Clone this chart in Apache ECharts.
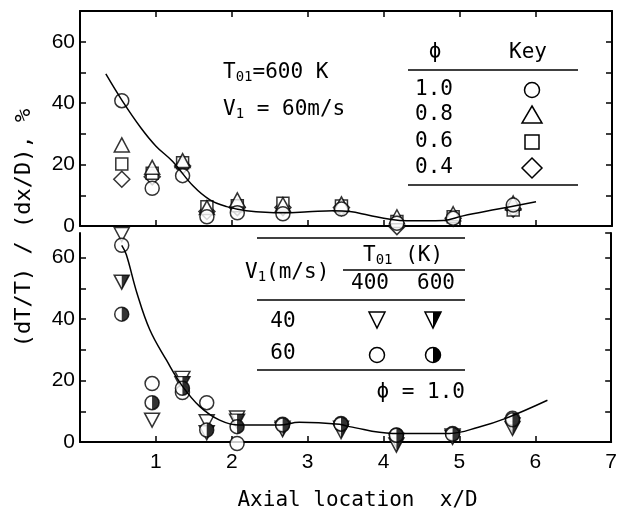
<!DOCTYPE html>
<html>
<head>
<meta charset="utf-8">
<script src="https://cdn.jsdelivr.net/npm/echarts@6.0.0/dist/echarts.min.js"></script>
<style>
  html, body { margin: 0; background: #fff; }
  #chart { width: 620px; height: 512px; }
</style>
</head>
<body>
<div id="chart"></div>
<script>
// axial stations x/D (same in both panels)
var stations = [0.55, 0.95, 1.35, 1.67, 2.07, 2.67, 3.44, 4.17, 4.91, 5.70];

// top panel: T01 = 600 K, V1 = 60 m/s, by equivalence ratio
var phi10 = [40.8, 12.3, 16.4, 3.0, 4.3, 4.0, 5.5, 0.9, 2.5, 6.8];
var phi08 = [26.4, 19.1, 21.3, 6.0, 8.5, 7.0, 7.2, 3.0, 4.0, 7.5];
var phi06 = [20.2, 17.2, 20.6, 6.3, 6.6, 7.4, 6.5, 1.5, 3.0, 5.2];
var phi04 = [15.2, 16.0, 19.5, 4.7, 6.0, 6.0, 6.0, -0.2, 2.5, 5.5];
// faired curve, top panel
var fitTopX = [0.34, 0.55, 0.8, 1.0, 1.22, 1.49, 1.71, 1.93, 2.19, 2.67, 3.0, 3.33, 3.55, 3.8, 4.08, 4.3, 4.78, 5.04, 5.5, 6.0];
var fitTopY = [49.5, 41, 32, 26, 21, 13, 8.5, 6.3, 5, 4.3, 4.6, 5, 4.7, 3.5, 2.2, 1.7, 1.8, 3.3, 5.5, 7.9];

// bottom panel: phi = 1.0, by V1 (m/s) and T01 (K)
var v40t400 = [67.5, 7.1, 20.7, 6.6, 7.8, 4.5, 4.5, 0.5, 2.0, 5.5];
var v40t600 = [52.0, null, 19.0, 3.0, 6.8, 4.0, 3.4, -1.0, 1.5, 4.4];
var v60t400 = [64.0, 19.0, 16.1, 12.8, -0.5, 5.8, 6.0, 2.3, 2.8, 7.7];
var v60t600 = [41.6, 12.8, 17.5, 3.9, 5.0, 5.5, 5.8, 2.2, 2.5, 7.2];
// faired curve, bottom panel
var fitBotX = [0.55, 0.61, 0.75, 0.92, 1.14, 1.34, 1.58, 1.84, 2.1, 2.63, 2.89, 3.42, 3.55, 4.12, 4.87, 5.25, 5.61, 6.16];
var fitBotY = [64, 61, 48.5, 36.5, 26.6, 18.5, 11.5, 7.1, 5.5, 5.5, 6.4, 5.8, 5, 2.8, 2.8, 4.8, 7.7, 13.6];

var xTicks = ['1', '2', '3', '4', '5', '6', '7'];
var yTicks = [0, 20, 40, 60];

function pairs(xs, ys) {
  var out = [];
  for (var i = 0; i < xs.length; i++) {
    if (ys[i] != null) out.push([xs[i], ys[i]]);
  }
  return out;
}

var MONO = '"DejaVu Sans Mono", monospace';
var SANS = '"Liberation Sans", Arial, sans-serif';
var halfCircle = 'path://M0,-10A10,10,0,0,1,0,10Z M-10,0L-10,0';
var halfDownTri = 'path://M0,-9L10,-9L0,9Z M-10,-9L-10,-9';

function xAx(grid, pos, labels) {
  return {
    type: 'value', gridIndex: grid, position: pos, min: 0, max: 7, interval: 1,
    axisLine: { onZero: false, lineStyle: { color: '#000', width: 2 } },
    axisTick: { inside: true, length: 6, lineStyle: { color: '#000', width: 1.5 } },
    axisLabel: {
      show: labels, color: '#000', fontFamily: SANS, fontSize: 21, margin: 10,
      formatter: function (v) { return v === 0 ? '' : xTicks[v - 1]; }
    },
    splitLine: { show: false }
  };
}
function yAx(grid, pos, max, labels) {
  return {
    type: 'value', gridIndex: grid, position: pos, min: 0, max: max, interval: 10,
    axisLine: { onZero: false, lineStyle: { color: '#000', width: 2 } },
    axisTick: { inside: true, length: 6, lineStyle: { color: '#000', width: 1.5 } },
    axisLabel: {
      show: labels, color: '#000', fontFamily: SANS, fontSize: 21, margin: 5,
      showMaxLabel: false,
      formatter: function (v) { return yTicks.indexOf(v) >= 0 ? String(v) : ''; }
    },
    splitLine: { show: false }
  };
}
function openPts(name, xi, yi, data, symbol, size, rot) {
  return {
    name: name, type: 'scatter', xAxisIndex: xi, yAxisIndex: yi, data: data,
    symbol: symbol, symbolSize: size, symbolRotate: rot || 0, clip: false,
    itemStyle: { color: '#fff', borderColor: '#000', borderWidth: 1.5 }
  };
}
function fillPts(name, xi, yi, data, symbol, size) {
  return {
    name: name, type: 'scatter', xAxisIndex: xi, yAxisIndex: yi, data: data,
    symbol: symbol, symbolSize: size, clip: false,
    itemStyle: { color: '#000', borderWidth: 0 }
  };
}
function curve(xi, yi, data) {
  return {
    type: 'line', xAxisIndex: xi, yAxisIndex: yi, data: data, smooth: 0.4,
    showSymbol: false, clip: false, lineStyle: { color: '#000', width: 1.5 }
  };
}

var txt = function (t, x, y, align, size) {
  return { type: 'text', x: x, y: y, style: {
    text: t, font: (size || 21) + 'px ' + MONO, fill: '#000',
    textAlign: align || 'left', textVerticalAlign: 'middle' } };
};
var sub = function (parts, x, y) {
  // parts: [[text, isSub], ...]
  var s = parts.map(function (p) { return '{' + (p[1] ? 's' : 'n') + '|' + p[0] + '}'; }).join('');
  return { type: 'text', x: x, y: y, style: {
    text: s, fill: '#000', textVerticalAlign: 'middle',
    rich: {
      n: { fontFamily: MONO, fontSize: 21, lineHeight: 24 },
      s: { fontFamily: MONO, fontSize: 14, lineHeight: 24, padding: [9, 0, 0, 0] }
    } } };
};
var hline = function (x1, x2, y) {
  return { type: 'line', shape: { x1: x1, y1: y, x2: x2, y2: y }, style: { stroke: '#000', lineWidth: 1.5 } };
};
var keyStyle = { fill: '#fff', stroke: '#000', lineWidth: 1.5 };

var chart = echarts.init(document.getElementById('chart'));
chart.setOption({
  animation: false,
  backgroundColor: '#fff',
  grid: [
    { left: 80, right: 8, top: 11, height: 215 },
    { left: 80, right: 8, top: 233, height: 209 }
  ],
  xAxis: [
    xAx(0, 'bottom', false),
    xAx(0, 'top', false),
    Object.assign(xAx(1, 'bottom', true), {
      name: 'Axial location  x/D', nameLocation: 'middle', nameGap: 48,
      nameTextStyle: { color: '#000', fontFamily: MONO, fontSize: 21, padding: [0, 0, 0, 24] }
    })
  ],
  yAxis: [
    yAx(0, 'left', 70, true),
    yAx(0, 'right', 70, false),
    yAx(1, 'left', 68, true),
    yAx(1, 'right', 68, false)
  ],
  series: [
    curve(0, 0, pairs(fitTopX, fitTopY)),
    openPts('0.4', 0, 0, pairs(stations, phi04), 'diamond', [16, 16]),
    openPts('0.6', 0, 0, pairs(stations, phi06), 'rect', [12, 12]),
    openPts('0.8', 0, 0, pairs(stations, phi08), 'triangle', [15, 14]),
    openPts('1.0', 0, 0, pairs(stations, phi10), 'circle', 14),

    curve(2, 2, pairs(fitBotX, fitBotY)),
    openPts('40/400', 2, 2, pairs(stations, v40t400), 'triangle', [15, 14], 180),
    openPts('40/600', 2, 2, pairs(stations, v40t600), 'triangle', [15, 14], 180),
    fillPts('40/600f', 2, 2, pairs(stations, v40t600), halfDownTri, [15, 14]),
    openPts('60/400', 2, 2, pairs(stations, v60t400), 'circle', 14),
    openPts('60/600', 2, 2, pairs(stations, v60t600), 'circle', 14),
    fillPts('60/600f', 2, 2, pairs(stations, v60t600), halfCircle, 14)
  ],
  graphic: [
    { type: 'text', x: 24, y: 228, rotation: Math.PI / 2, style: {
      text: '(dT/T) / (dx/D), %', font: '22px ' + MONO, fill: '#000',
      textAlign: 'center', textVerticalAlign: 'middle' } },

    // top panel notes and key
    sub([['T', 0], ['01', 1], ['=600 K', 0]], 223, 73),
    sub([['V', 0], ['1', 1], [' = 60m/s', 0]], 223, 110),
    txt('\u03d5', 435, 53, 'center'),
    txt('Key', 528, 53, 'center'),
    hline(408, 578, 70),
    txt('1.0', 434, 90, 'center'),
    txt('0.8', 434, 115, 'center'),
    txt('0.6', 434, 142, 'center'),
    txt('0.4', 434, 168, 'center'),
    { type: 'circle', shape: { cx: 532, cy: 90, r: 7.5 }, style: keyStyle },
    { type: 'polygon', shape: { points: [[532, 106], [542, 123], [522, 123]] }, style: keyStyle },
    { type: 'rect', shape: { x: 525, y: 135, width: 14, height: 14 }, style: keyStyle },
    { type: 'polygon', shape: { points: [[532, 158], [542, 168], [532, 178], [522, 168]] }, style: keyStyle },
    hline(408, 578, 185),

    // bottom panel key
    hline(257, 465, 238),
    sub([['T', 0], ['01', 1], [' (K)', 0]], 363, 256),
    hline(343, 465, 270),
    sub([['V', 0], ['1', 1], ['(m/s)', 0]], 245, 273),
    txt('400', 370, 284, 'center'),
    txt('600', 436, 284, 'center'),
    hline(257, 465, 300),
    txt('40', 283, 322, 'center'),
    txt('60', 283, 354, 'center'),
    { type: 'polygon', shape: { points: [[369, 312], [385, 312], [377, 328]] }, style: keyStyle },
    { type: 'polygon', shape: { points: [[425, 312], [441, 312], [433, 328]] }, style: keyStyle },
    { type: 'polygon', shape: { points: [[433, 312], [441, 312], [433, 328]] }, style: { fill: '#000' } },
    { type: 'circle', shape: { cx: 377, cy: 355, r: 7.5 }, style: keyStyle },
    { type: 'circle', shape: { cx: 433, cy: 355, r: 7.5 }, style: keyStyle },
    { type: 'sector', shape: { cx: 433, cy: 355, r: 7.5, startAngle: -Math.PI / 2, endAngle: Math.PI / 2 }, style: { fill: '#000' } },
    hline(257, 465, 370),
    txt('\u03d5 = 1.0', 465, 393, 'right')
  ]
});
</script>
</body>
</html>
